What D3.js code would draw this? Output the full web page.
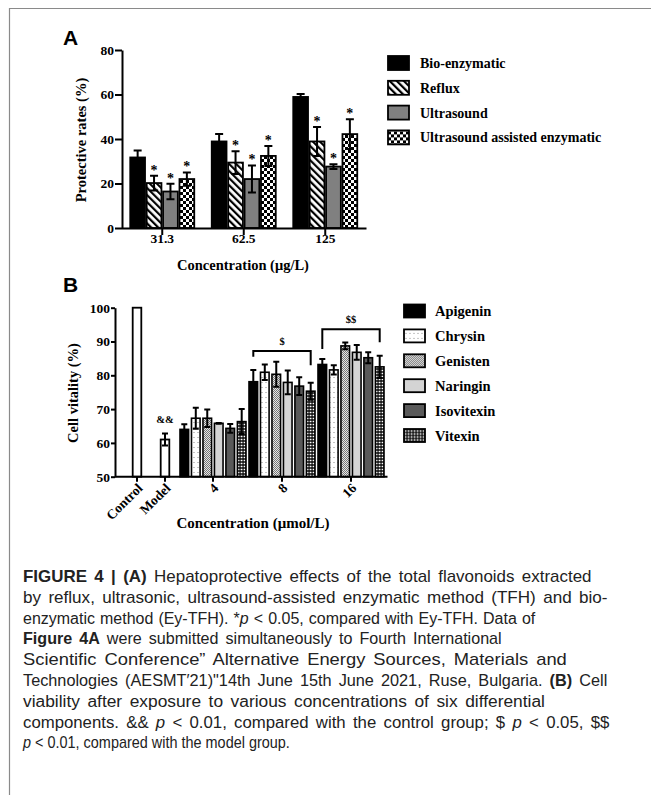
<!DOCTYPE html>
<html>
<head>
<meta charset="utf-8">
<script src="https://cdnjs.cloudflare.com/ajax/libs/d3/7.8.5/d3.min.js"></script>
<style>
  body { margin: 0; background: #fff; }
</style>
</head>
<body>
<div id="vis"></div>
<script>
// ---- panel A data ----
const groupsA = ["31.3", "62.5", "125"];
const methodsA = ["Bio-enzymatic", "Reflux", "Ultrasound", "Ultrasound assisted enzymatic"];
const meanA = [
  [31.7, 20.2, 16.4, 22.0],
  [38.9, 29.4, 22.0, 32.4],
  [58.9, 38.9, 27.6, 42.2]
];
const errA = [
  [3.1, 3.3, 3.5, 3.0],
  [3.4, 5.1, 6.1, 4.5],
  [1.3, 6.5, 1.1, 6.7]
];
const starA = ["", "*", "*", "*"];
const ticksA = [0, 20, 40, 60, 80];

// ---- panel B data ----
const singlesB = ["Control", "Model"];
const singleMeanB = [100, 61.0];
const singleErrB = [0, 1.8];
const singleMarkB = ["", "&&"];
const dosesB = ["4", "8", "16"];
const compoundsB = ["Apigenin", "Chrysin", "Genisten", "Naringin", "Isovitexin", "Vitexin"];
const meanB = [
  [64.0, 67.3, 67.3, 65.8, 64.3, 66.3],
  [78.1, 80.9, 80.3, 77.9, 76.8, 75.3],
  [83.2, 81.6, 88.7, 86.8, 85.2, 82.5]
];
const errB = [
  [1.5, 3.1, 2.6, 0.1, 1.3, 3.7],
  [3.5, 2.3, 3.7, 3.5, 2.6, 2.5],
  [1.6, 1.4, 1.0, 2.2, 1.6, 3.3]
];
const bracketDoses = ["8", "16"];
const bracketLabels = ["$", "$$"];
const bracketTop = [87.2, 93.6];
const bracketLeftEnd = [85.5, 87.8];
const bracketRightEnd = [83.0, 89.8];
const ticksB = [50, 60, 70, 80, 90, 100];

const SERIF = "'Liberation Serif', 'Times New Roman', serif";
const SANS = "'Liberation Sans', Arial, sans-serif";

const svg = d3.select("#vis").append("svg")
  .attr("width", 651).attr("height", 795);

// frame (top + left edges only, like the cropped page)
svg.append("path").attr("d", "M9.5,795V8.5H651")
  .attr("fill", "none").attr("stroke", "#8a8a8a").attr("stroke-width", 1.2);

// ---- fill patterns ----
const defs = svg.append("defs");
function pat(id, w, h, build, tr) {
  const p = defs.append("pattern").attr("id", id)
    .attr("patternUnits", "userSpaceOnUse").attr("width", w).attr("height", h);
  if (tr) p.attr("patternTransform", tr);
  build(p);
}
pat("hatch", 5, 5, p => {
  p.append("rect").attr("width", 5).attr("height", 5).attr("fill", "#fff");
  p.append("rect").attr("width", 2.2).attr("height", 5).attr("fill", "#000");
}, "rotate(-45)");
pat("checker", 6, 6, p => {
  p.append("rect").attr("width", 6).attr("height", 6).attr("fill", "#fff");
  p.append("rect").attr("width", 3).attr("height", 3).attr("fill", "#000");
  p.append("rect").attr("x", 3).attr("y", 3).attr("width", 3).attr("height", 3).attr("fill", "#000");
});
pat("speck", 4, 5, p => {
  p.append("rect").attr("width", 4).attr("height", 5).attr("fill", "#fff");
  p.append("rect").attr("x", 1).attr("y", 2).attr("width", 2).attr("height", 1).attr("fill", "#c4c4c4");
});
pat("fine", 2, 2, p => {
  p.append("rect").attr("width", 2).attr("height", 2).attr("fill", "#e6e6e6");
  p.append("rect").attr("width", 1).attr("height", 1).attr("fill", "#777");
  p.append("rect").attr("x", 1).attr("y", 1).attr("width", 1).attr("height", 1).attr("fill", "#777");
});
pat("grid", 3, 3, p => {
  p.append("rect").attr("width", 3).attr("height", 3).attr("fill", "#000");
  p.append("rect").attr("x", 0.6).attr("y", 0.7).attr("width", 1.9).attr("height", 1.6).attr("fill", "#fff");
});

const fillA = ["#000", "url(#hatch)", "#808080", "url(#checker)"];
const fillB = ["#000", "url(#speck)", "url(#fine)", "#d4d4d4", "#5a5a5a", "url(#grid)"];

function styleAxis(g, size) {
  g.attr("font-family", SERIF).attr("font-weight", "bold").attr("font-size", size);
  g.selectAll("path, line").attr("stroke", "#000").attr("stroke-width", 2);
  g.selectAll("text").attr("fill", "#000");
}

function errPath(cx, y0, y1, y2, half) {
  return `M${cx},${y2}V${y1}M${cx - half},${y1}H${cx + half}M${cx - half},${y2}H${cx + half}`;
}

// ================= Panel A =================
const yA = d3.scaleLinear().domain([0, 80]).range([228, 50]);
const xA0 = d3.scaleBand().domain(groupsA).range([121.5, 366]);
const xA1 = d3.scaleBand().domain(methodsA).range([0, 64]).paddingInner(0.1);
const offA = (xA0.bandwidth() - 64) / 2;

const recA = groupsA.flatMap((g, gi) => methodsA.map((m, mi) =>
  ({ g, m, mi, v: meanA[gi][mi], e: errA[gi][mi] })));
const cxA = d => xA0(d.g) + offA + xA1(d.m) + xA1.bandwidth() / 2;

const gA = svg.append("g");
gA.selectAll("rect").data(recA).join("rect")
  .attr("x", d => xA0(d.g) + offA + xA1(d.m))
  .attr("y", d => yA(d.v))
  .attr("width", xA1.bandwidth())
  .attr("height", d => yA(0) - yA(d.v))
  .attr("fill", d => fillA[d.mi])
  .attr("stroke", "#000").attr("stroke-width", 1.8);

gA.selectAll("path.err").data(recA).join("path").attr("class", "err")
  .attr("d", d => errPath(cxA(d), yA(d.v), yA(d.v + d.e), yA(d.v - d.e), 4))
  .attr("fill", "none").attr("stroke", "#000").attr("stroke-width", 2);

gA.selectAll("text.star").data(recA.filter(d => starA[d.mi])).join("text").attr("class", "star")
  .attr("x", d => cxA(d)).attr("y", d => yA(d.v + d.e) - 1)
  .attr("text-anchor", "middle")
  .attr("font-family", SERIF).attr("font-weight", "bold").attr("font-size", 14)
  .text(d => starA[d.mi]);

svg.append("g").attr("transform", "translate(122,0)")
  .call(d3.axisLeft(yA).tickValues(ticksA).tickSize(7).tickSizeOuter(0).tickPadding(1))
  .call(g => styleAxis(g, 13.5));
svg.append("g").attr("transform", "translate(0,228)")
  .call(d3.axisBottom(xA0).tickSize(7).tickSizeOuter(0))
  .call(g => styleAxis(g, 13.5))
  .call(g => g.selectAll("text").attr("y", 10).attr("dy", "0.35em"));

svg.append("text").attr("transform", "translate(86,140) rotate(-90)")
  .attr("text-anchor", "middle")
  .attr("font-family", SERIF).attr("font-weight", "bold").attr("font-size", 14.5)
  .text("Protective rates (%)");
svg.append("text").attr("x", 243).attr("y", 270)
  .attr("text-anchor", "middle")
  .attr("font-family", SERIF).attr("font-weight", "bold").attr("font-size", 14.5)
  .text("Concentration (μg/L)");
svg.append("text").attr("x", 63).attr("y", 45)
  .attr("font-family", SANS).attr("font-weight", "bold").attr("font-size", 21)
  .text("A");

// legend A
const legA = svg.append("g").selectAll("g").data(methodsA).join("g")
  .attr("transform", (d, i) => `translate(388,${63 + i * 24.8})`);
legA.append("rect").attr("x", 0).attr("y", -7).attr("width", 21).attr("height", 14)
  .attr("fill", (d, i) => fillA[i]).attr("stroke", "#000").attr("stroke-width", 1.8);
legA.append("text").attr("x", 32).attr("dy", "0.35em")
  .attr("font-family", SERIF).attr("font-weight", "bold").attr("font-size", 14)
  .text(d => d);

// ================= Panel B =================
const yB = d3.scaleLinear().domain([50, 100]).range([476.7, 307.7]);
const xS = d3.scalePoint().domain(singlesB).range([137, 165]);
const xB0 = d3.scaleBand().domain(dosesB).range([178.5, 385.5]);
const xB1 = d3.scaleBand().domain(compoundsB).range([0, 66]).paddingInner(0.25);
const offB = (xB0.bandwidth() - 66) / 2;
const bwB = xB1.bandwidth();

const recB = dosesB.flatMap((g, gi) => compoundsB.map((m, mi) =>
  ({ g, m, mi, v: meanB[gi][mi], e: errB[gi][mi] })));
const cxB = d => xB0(d.g) + offB + xB1(d.m) + bwB / 2;
const recS = singlesB.map((s, i) => ({ s, v: singleMeanB[i], e: singleErrB[i], mark: singleMarkB[i] }));

const gB = svg.append("g");
gB.selectAll("rect.single").data(recS).join("rect").attr("class", "single")
  .attr("x", d => xS(d.s) - bwB / 2).attr("y", d => yB(d.v))
  .attr("width", bwB).attr("height", d => yB(50) - yB(d.v))
  .attr("fill", "#fff").attr("stroke", "#000").attr("stroke-width", 1.8);
gB.selectAll("path.serr").data(recS.filter(d => d.e > 0)).join("path").attr("class", "serr")
  .attr("d", d => errPath(xS(d.s), yB(d.v), yB(d.v + d.e), yB(d.v - d.e), 3))
  .attr("fill", "none").attr("stroke", "#000").attr("stroke-width", 2);
gB.selectAll("text.mark").data(recS.filter(d => d.mark)).join("text").attr("class", "mark")
  .attr("x", d => xS(d.s)).attr("y", d => yB(d.v + d.e) - 10)
  .attr("text-anchor", "middle")
  .attr("font-family", SERIF).attr("font-weight", "bold").attr("font-size", 10.5)
  .text(d => d.mark);

gB.selectAll("rect.bar").data(recB).join("rect").attr("class", "bar")
  .attr("x", d => xB0(d.g) + offB + xB1(d.m))
  .attr("y", d => yB(d.v))
  .attr("width", bwB).attr("height", d => yB(50) - yB(d.v))
  .attr("fill", d => fillB[d.mi])
  .attr("stroke", "#000").attr("stroke-width", 1.6);
gB.selectAll("path.err").data(recB).join("path").attr("class", "err")
  .attr("d", d => errPath(cxB(d), yB(d.v), yB(d.v + d.e), yB(d.v - d.e), 3))
  .attr("fill", "none").attr("stroke", "#000").attr("stroke-width", 2);

// significance brackets
const firstC = compoundsB[0], lastC = compoundsB[compoundsB.length - 1];
bracketDoses.forEach((dose, i) => {
  const x1 = xB0(dose) + offB + xB1(firstC) + bwB / 2;
  const x2 = xB0(dose) + offB + xB1(lastC) + bwB / 2;
  gB.append("path")
    .attr("d", `M${x1},${yB(bracketLeftEnd[i])}V${yB(bracketTop[i])}H${x2}V${yB(bracketRightEnd[i])}`)
    .attr("fill", "none").attr("stroke", "#000").attr("stroke-width", 2);
  gB.append("text").attr("x", (x1 + x2) / 2).attr("y", yB(bracketTop[i]) - 6)
    .attr("text-anchor", "middle")
    .attr("font-family", SERIF).attr("font-weight", "bold").attr("font-size", 10.5)
    .text(bracketLabels[i]);
});

svg.append("g").attr("transform", "translate(115,0)")
  .call(d3.axisLeft(yB).tickValues(ticksB).tickSize(4).tickSizeOuter(0).tickPadding(1))
  .call(g => styleAxis(g, 13.5));

// x axis B: singles + dose groups on one line
const tickXB = singlesB.map(s => ({ label: s, x: xS(s) }))
  .concat(dosesB.map(d => ({ label: d, x: xB0(d) + xB0.bandwidth() / 2 })));
const axB = svg.append("g").attr("transform", "translate(0,476.7)");
axB.append("path").attr("d", `M115,0H${xB0.range()[1] + 2}`)
  .attr("stroke", "#000").attr("stroke-width", 2);
axB.selectAll("line").data(tickXB).join("line")
  .attr("x1", d => d.x).attr("x2", d => d.x).attr("y1", 0).attr("y2", 5)
  .attr("stroke", "#000").attr("stroke-width", 2);
axB.selectAll("text").data(tickXB).join("text")
  .attr("transform", d => `translate(${d.x + 3},${9}) rotate(-45)`)
  .attr("text-anchor", "end").attr("dy", "0.35em")
  .attr("font-family", SERIF).attr("font-weight", "bold").attr("font-size", 13.5)
  .text(d => d.label);

svg.append("text").attr("transform", "translate(78,393) rotate(-90)")
  .attr("text-anchor", "middle")
  .attr("font-family", SERIF).attr("font-weight", "bold").attr("font-size", 14.5)
  .text("Cell vitality (%)");
svg.append("text").attr("x", 253).attr("y", 528)
  .attr("text-anchor", "middle")
  .attr("font-family", SERIF).attr("font-weight", "bold").attr("font-size", 15)
  .text("Concentration (μmol/L)");
svg.append("text").attr("x", 63).attr("y", 292)
  .attr("font-family", SANS).attr("font-weight", "bold").attr("font-size", 21)
  .text("B");

// legend B
const legB = svg.append("g").selectAll("g").data(compoundsB).join("g")
  .attr("transform", (d, i) => `translate(404,${311 + i * 24.9})`);
legB.append("rect").attr("x", 0).attr("y", -6.5).attr("width", 21).attr("height", 13)
  .attr("fill", (d, i) => fillB[i]).attr("stroke", "#000").attr("stroke-width", 1.8);
legB.append("text").attr("x", 31).attr("dy", "0.35em")
  .attr("font-family", SERIF).attr("font-weight", "bold").attr("font-size", 14.5)
  .text(d => d);

// ================= caption =================
const caption = [
  [["FIGURE 4 | (A)", "b"], [" Hepatoprotective effects of the total flavonoids extracted", ""]],
  [["by reflux, ultrasonic, ultrasound-assisted enzymatic method (TFH) and bio-", ""]],
  [["enzymatic method (Ey-TFH). *", ""], ["p", "i"], [" < 0.05, compared with Ey-TFH. Data of", ""]],
  [["Figure 4A", "b"], [" were submitted simultaneously to Fourth International", ""]],
  [["Scientific Conference\u201D Alternative Energy Sources, Materials and", ""]],
  [["Technologies (AESMT\u203221)\"14th June 15th June 2021, Ruse, Bulgaria. ", ""], ["(B)", "b"], [" Cell", ""]],
  [["viability after exposure to various concentrations of six differential", ""]],
  [["components. && ", ""], ["p", "i"], [" < 0.01, compared with the control group; $ ", ""], ["p", "i"], [" < 0.05, $$", ""]],
  [["p", "i"], [" < 0.01, compared with the model group.", ""]]
];
const captionEnd = [592, 608, 536, 502, 567, 608, 545, 610, 290];

// justified-ish lines: widen word gaps a little, then scale the line to its width
const cap = svg.append("g").attr("font-family", SANS).attr("font-size", 16).attr("fill", "#222");
caption.forEach((line, i) => {
  const y = 582 + i * 20.8;
  const t = cap.append("text").attr("x", 0).attr("y", 0);
  line.forEach(([s, st]) => {
    t.append("tspan")
      .attr("font-weight", st === "b" ? "bold" : null)
      .attr("font-style", st === "i" ? "italic" : null)
      .text(s);
  });
  const target = captionEnd[i] - 23;
  const str = line.map(d => d[0]).join("");
  const spaces = (str.match(/ /g) || []).length;
  let w = t.node().getComputedTextLength();
  if (w < target && spaces) {
    t.attr("word-spacing", Math.min(2.5, (target - w) / spaces));
    w = t.node().getBBox().width;
  }
  t.attr("transform", `translate(23,${y}) scale(${target / w},1)`);
});
</script>
</body>
</html>
